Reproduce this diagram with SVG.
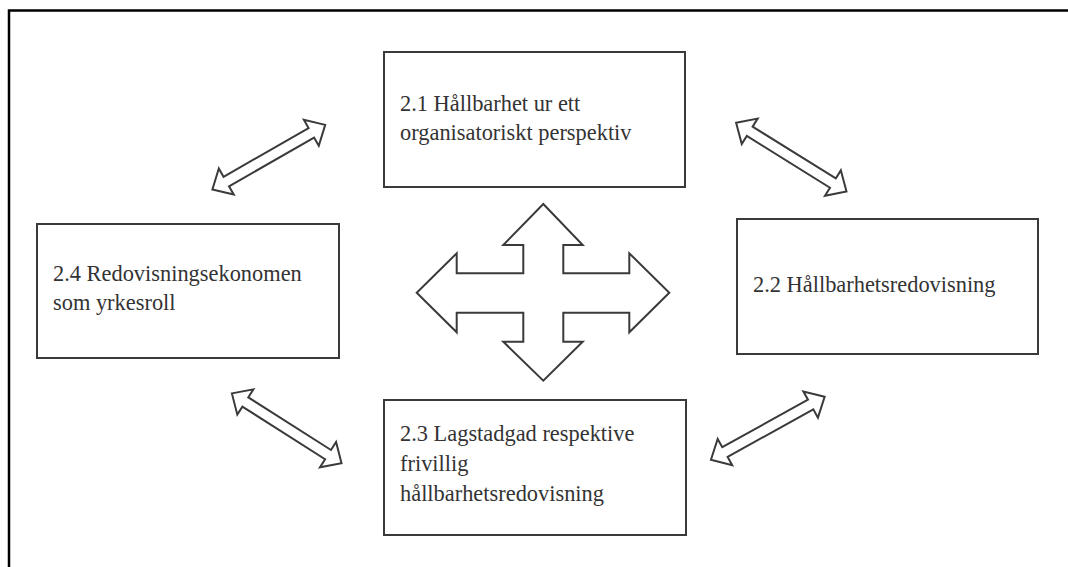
<svg xmlns="http://www.w3.org/2000/svg" width="1068" height="567" viewBox="0 0 1068 567">
<style>
.box{fill:#fff;stroke:#3a3a3a;stroke-width:2}
.lbl{font-family:'Liberation Serif','Times New Roman',Tinos,serif;font-size:22.4px;fill:#333}
.arr{fill:#fff;stroke:#3a3a3a;stroke-width:2;stroke-linejoin:miter}
</style>
<defs>
<polygon id="dbl" points="-65,0 -49,-15 -49,-5.5 49,-5.5 49,-15 65,0 49,15 49,5.5 -49,5.5 -49,15"/>
</defs>
<rect width="1068" height="567" fill="#fff"/>
<path d="M9,567 V10.5 H1068" fill="none" stroke="#000" stroke-width="2.5"/>
<g id="connectors">
<use href="#dbl" class="arr" transform="translate(268.8,157.2) rotate(-29.8)"/>
<use href="#dbl" class="arr" transform="translate(791.3,157.2) rotate(31.9)"/>
<use href="#dbl" class="arr" transform="translate(286.7,428.3) rotate(32.5)"/>
<use href="#dbl" class="arr" transform="translate(767.8,428.3) rotate(-29)"/>
<polygon id="cross" class="arr" points="543.3,204 582.7,245 563.3,245 563.3,273.3 629.3,273.3 629.3,253.3 669.3,292.7 629.3,332.3 629.3,312.7 563.3,312.7 563.3,341.7 582.7,341.7 543.3,380.7 503.3,341.7 523.3,341.7 523.3,312.7 456.7,312.7 456.7,332.3 416.7,292.7 456.7,253.3 456.7,273.3 523.3,273.3 523.3,245 503.3,245"/>
</g>
<g id="n21">
<rect class="box" x="384" y="52" width="301" height="135"/>
<text class="lbl" font-family="Liberation Serif, serif" x="400" y="111">2.1 Hållbarhet ur ett</text>
<text class="lbl" font-family="Liberation Serif, serif" x="400" y="140">organisatoriskt perspektiv</text>
</g>
<g id="n22">
<rect class="box" x="737" y="219" width="301" height="135"/>
<text class="lbl" font-family="Liberation Serif, serif" x="753" y="292">2.2 Hållbarhetsredovisning</text>
</g>
<g id="n23">
<rect class="box" x="384" y="400" width="302" height="135"/>
<text class="lbl" font-family="Liberation Serif, serif" x="400" y="441">2.3 Lagstadgad respektive</text>
<text class="lbl" font-family="Liberation Serif, serif" x="400" y="471">frivillig</text>
<text class="lbl" font-family="Liberation Serif, serif" x="400" y="500.5">hållbarhetsredovisning</text>
</g>
<g id="n24">
<rect class="box" x="37" y="224" width="302" height="134"/>
<text class="lbl" font-family="Liberation Serif, serif" x="53" y="280.5">2.4 Redovisningsekonomen</text>
<text class="lbl" font-family="Liberation Serif, serif" x="53" y="310">som yrkesroll</text>
</g>
</svg>
